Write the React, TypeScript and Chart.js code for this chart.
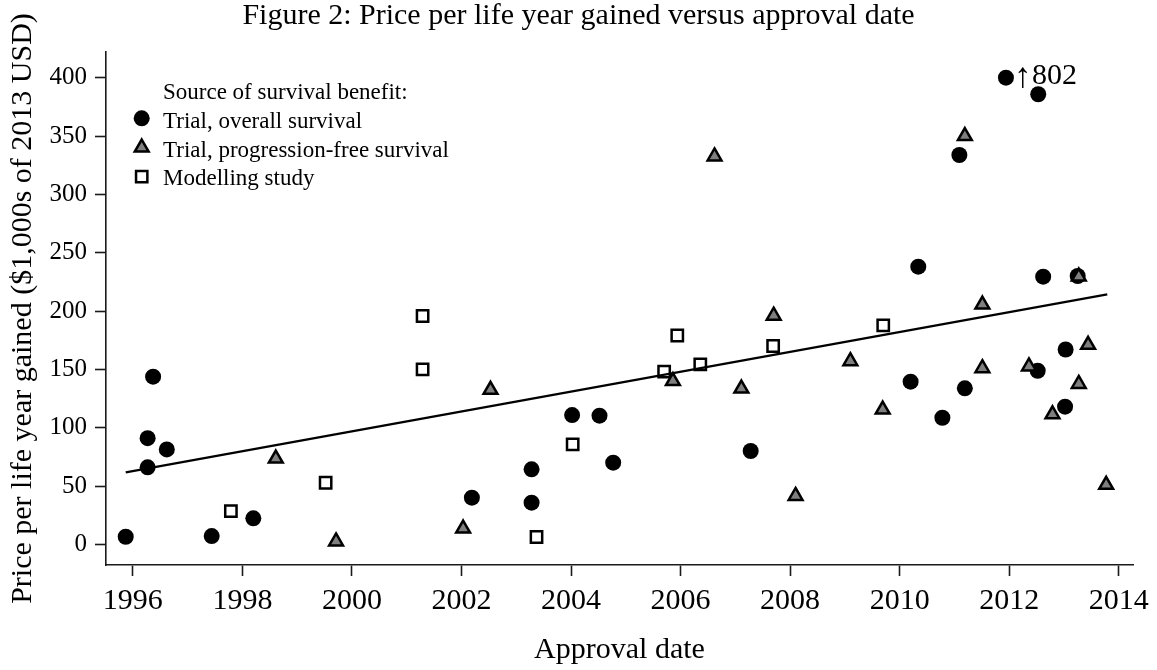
import React, { useEffect, useRef } from 'react';
import { Chart, registerables } from 'chart.js';

Chart.register(...registerables);

const SERIF = "'Liberation Serif', 'Times New Roman', 'DejaVu Serif', serif";

const titleText = 'Figure 2: Price per life year gained versus approval date';
const xTitle = 'Approval date';
const yTitle = 'Price per life year gained ($1,000s of 2013 USD)';
const legendTitle = 'Source of survival benefit:';
const seriesNames = ['Trial, overall survival', 'Trial, progression-free survival', 'Modelling study'];

const xTicks = [1996, 1998, 2000, 2002, 2004, 2006, 2008, 2010, 2012, 2014];
const yTicks = [0, 50, 100, 150, 200, 250, 300, 350, 400];
const xMin = 1995.51;
const xMax = 2014.26;
const yMin = -17.7;
const yMax = 422;
const yCap = 400;

// Trial, overall survival (circles)
const osX = [1995.87, 1996.27, 1996.27, 1996.37, 1996.62, 1997.44, 1998.2, 2002.19, 2003.28, 2003.28, 2004.02, 2004.52, 2004.77, 2007.28, 2010.2, 2010.34, 2010.78, 2011.09, 2011.19, 2011.94, 2012.52, 2012.53, 2012.62, 2013.02, 2013.03, 2013.25];
const osY = [6.5, 91, 66, 143.7, 81.4, 7.1, 22.3, 40, 64.3, 35.7, 110.8, 110.3, 70, 80, 139.4, 238, 108.5, 333.7, 133.7, 802, 148.8, 385.8, 229.4, 118, 167, 230];

// Trial, progression-free survival (triangles)
const pfsX = [1998.61, 1999.71, 2002.03, 2002.53, 2005.86, 2006.62, 2007.11, 2007.7, 2008.1, 2009.1, 2009.69, 2011.19, 2011.51, 2011.51, 2012.36, 2012.79, 2013.27, 2013.27, 2013.44, 2013.77];
const pfsY = [73.5, 2.5, 13.5, 132.5, 140, 332.5, 133.5, 196, 41.5, 157, 115.5, 350, 205.5, 151, 152.5, 111.5, 229.5, 137.5, 171, 51];

// Modelling study (squares)
const modX = [1997.79, 1999.52, 2001.29, 2001.29, 2003.37, 2004.03, 2005.7, 2005.94, 2006.36, 2007.69, 2009.7];
const modY = [28.5, 52.8, 195.7, 150, 6.3, 85.7, 148, 179, 154.3, 170, 187.7];

// Linear fit
const trendX = [1995.87, 2013.79];
const trendY = [61.7, 214.3];

const AXIS = '#1a1a1a';
const TRI_FILL = '#7f7f7f';
const R = 8;

function toPoints(xs: number[], ys: number[]) {
  return xs.map((x, i) => ({ x, y: Math.min(ys[i], yCap) }));
}

function drawMarker(ctx: CanvasRenderingContext2D, kind: string, x: number, y: number) {
  ctx.save();
  ctx.beginPath();
  if (kind === 'circle') {
    ctx.arc(x, y, R, 0, Math.PI * 2);
    ctx.fillStyle = '#000';
    ctx.fill();
  } else if (kind === 'triangle') {
    for (let k = 0; k < 3; k++) {
      const a = (k * 2 * Math.PI) / 3;
      const px = x + Math.sin(a) * R;
      const py = y - Math.cos(a) * R;
      if (k === 0) ctx.moveTo(px, py);
      else ctx.lineTo(px, py);
    }
    ctx.closePath();
    ctx.fillStyle = TRI_FILL;
    ctx.fill();
    ctx.lineWidth = 2.5;
    ctx.strokeStyle = '#000';
    ctx.stroke();
  } else {
    const s = Math.SQRT1_2 * R;
    ctx.rect(x - s, y - s, 2 * s, 2 * s);
    ctx.fillStyle = '#fff';
    ctx.fill();
    ctx.lineWidth = 2.5;
    ctx.strokeStyle = '#000';
    ctx.stroke();
  }
  ctx.restore();
}

const overlayPlugin = {
  id: 'overlay',
  afterDraw(chart: any) {
    const ctx: CanvasRenderingContext2D = chart.ctx;
    const area = chart.chartArea;
    ctx.save();
    // Title
    ctx.fillStyle = '#000';
    ctx.font = `30px ${SERIF}`;
    ctx.textAlign = 'center';
    ctx.textBaseline = 'alphabetic';
    ctx.fillText(titleText, chart.width / 2, 24);

    // Legend
    const lx = area.left + 57;
    const mx = area.left + 35.7;
    ctx.font = `23px ${SERIF}`;
    ctx.textAlign = 'left';
    ctx.fillText(legendTitle, lx, 99);
    const kinds = ['circle', 'triangle', 'square'];
    const baselines = [128, 156.7, 185];
    const markerY = [118.3, 147.5, 176.7];
    kinds.forEach((k, i) => {
      drawMarker(ctx, k, mx, markerY[i]);
      ctx.fillStyle = '#000';
      ctx.fillText(seriesNames[i], lx, baselines[i]);
    });

    // Outlier annotation
    const osIndex = chart.data.datasets.findIndex((d: any) => d.label === seriesNames[0]);
    const meta = chart.getDatasetMeta(osIndex);
    osY.forEach((v, i) => {
      if (v > yCap) {
        const el = meta.data[i];
        ctx.fillStyle = '#000';
        ctx.textAlign = 'left';
        ctx.font = `35px ${SERIF}`;
        ctx.fillText('\u2191', el.x + 8, el.y + 9);
        ctx.font = `30px ${SERIF}`;
        ctx.fillText(String(v), el.x + 26, el.y + 6.5);
      }
    });
    ctx.restore();
  },
};

export default function App() {
  const canvasRef = useRef<HTMLCanvasElement | null>(null);

  useEffect(() => {
    if (!canvasRef.current) return;
    const chart = new Chart(canvasRef.current, {
      type: 'scatter',
      data: {
        datasets: [
          {
            label: 'Linear fit',
            data: toPoints(trendX, trendY),
            showLine: true,
            borderColor: '#000',
            borderWidth: 2.2,
            pointRadius: 0,
            fill: false,
          } as any,
          {
            label: seriesNames[1],
            data: toPoints(pfsX, pfsY),
            pointStyle: 'triangle',
            pointRadius: R,
            backgroundColor: TRI_FILL,
            borderColor: '#000',
            borderWidth: 2.5,
          },
          {
            label: seriesNames[2],
            data: toPoints(modX, modY),
            pointStyle: 'rect',
            pointRadius: R,
            backgroundColor: '#fff',
            borderColor: '#000',
            borderWidth: 2.5,
          },
          {
            label: seriesNames[0],
            data: toPoints(osX, osY),
            pointStyle: 'circle',
            pointRadius: R,
            backgroundColor: '#000',
            borderColor: '#000',
            borderWidth: 0,
          },
        ],
      },
      options: {
        animation: false,
        responsive: false,
        events: [],
        clip: false as any,
        layout: { padding: { top: 52, right: 24, left: 0, bottom: 0 } },
        plugins: {
          legend: { display: false },
          title: { display: false },
          tooltip: { enabled: false },
        },
        scales: {
          x: {
            type: 'linear',
            min: xMin,
            max: xMax,
            afterBuildTicks: (s: any) => {
              s.ticks = xTicks.map((v) => ({ value: v }));
            },
            afterFit: (s: any) => {
              s.height = 105;
            },
            ticks: {
              color: '#000',
              font: { family: SERIF, size: 30 },
              padding: 7,
              maxRotation: 0,
              autoSkip: false,
              callback: (v: any) => String(v),
            },
            grid: {
              drawOnChartArea: false,
              drawTicks: true,
              tickLength: 11,
              tickWidth: 1.6,
              tickColor: AXIS,
            },
            border: { display: true, color: AXIS, width: 1.6 },
            title: {
              display: true,
              text: xTitle,
              color: '#000',
              font: { family: SERIF, size: 30 },
              padding: { top: 0, bottom: 2 },
            },
          },
          y: {
            type: 'linear',
            min: yMin,
            max: yMax,
            afterBuildTicks: (s: any) => {
              s.ticks = yTicks.map((v) => ({ value: v }));
            },
            afterFit: (s: any) => {
              s.width = 106;
            },
            ticks: {
              color: '#000',
              font: { family: SERIF, size: 25 },
              padding: 8,
              autoSkip: false,
              callback: (v: any) => String(v),
            },
            grid: {
              drawOnChartArea: false,
              drawTicks: true,
              tickLength: 11,
              tickWidth: 1.6,
              tickColor: AXIS,
            },
            border: { display: true, color: AXIS, width: 1.6 },
            title: {
              display: true,
              text: yTitle,
              color: '#000',
              font: { family: SERIF, size: 30 },
              padding: { top: 5, bottom: 0 },
            },
          },
        },
      },
      plugins: [overlayPlugin],
    });
    return () => chart.destroy();
  }, []);

  return (
    <div style={{ position: 'fixed', left: 0, top: 0, width: 1157, height: 670, background: '#fff' }}>
      <canvas ref={canvasRef} width={1157} height={670} style={{ display: 'block', width: 1157, height: 670 }} />
    </div>
  );
}
